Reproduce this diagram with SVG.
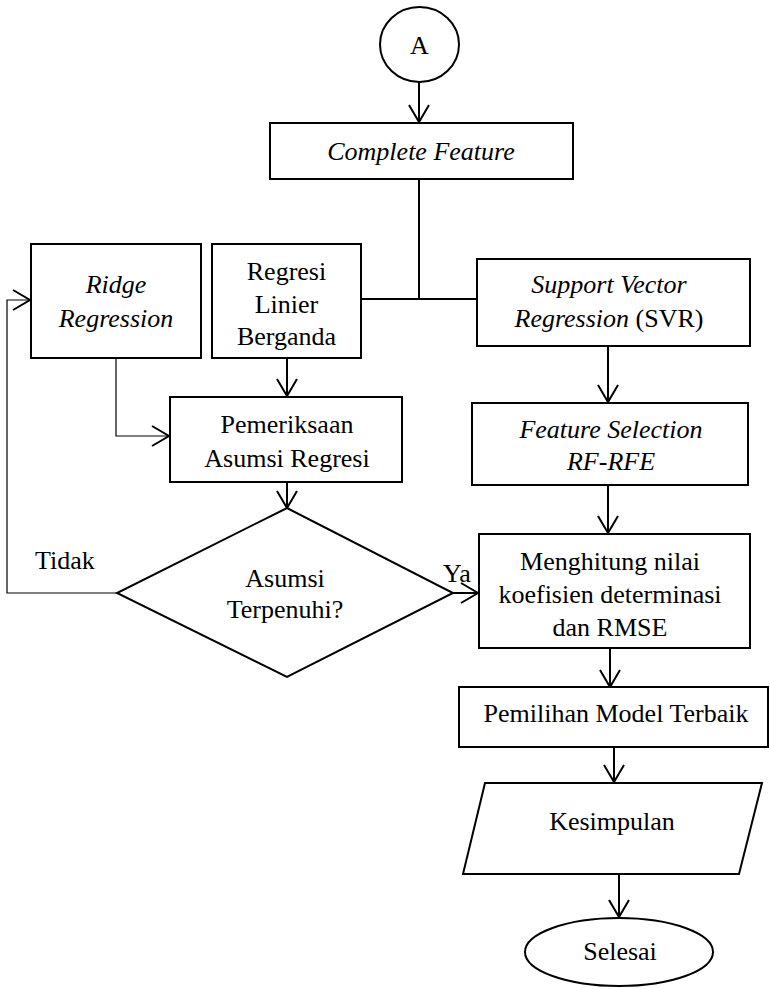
<svg xmlns="http://www.w3.org/2000/svg" width="770" height="989" viewBox="0 0 770 989">
<style>
.box{fill:#fff;stroke:#000;stroke-width:2}
.t{font-family:"Liberation Serif","Times New Roman",serif;font-size:26px;fill:#000;text-anchor:middle}
.i{font-style:italic}
.c{fill:none;stroke:#000;stroke-width:2}
.thin{fill:none;stroke:#000;stroke-width:1.2}
</style>
<defs>
<marker id="ar" viewBox="0 0 20 22" refX="18" refY="11" markerWidth="20" markerHeight="22" markerUnits="userSpaceOnUse" orient="auto">
<path d="M1,1 L18,11 L1,21" fill="none" stroke="#000" stroke-width="2"/>
</marker>
</defs>
<rect width="770" height="989" fill="#fff"/>
<g id="connectors">
<line class="c" x1="419" y1="82" x2="419" y2="122" marker-end="url(#ar)"/>
<line class="c" x1="419" y1="179" x2="419" y2="299"/>
<line class="c" x1="361" y1="299" x2="477" y2="299"/>
<polyline class="thin" points="116,358 116,436 169,436" marker-end="url(#ar)"/>
<line class="c" x1="287" y1="358" x2="287" y2="396" marker-end="url(#ar)"/>
<line class="c" x1="287" y1="482" x2="287" y2="508" marker-end="url(#ar)"/>
<polyline class="thin" points="117,593 7,593 7,300 30,300" marker-end="url(#ar)"/>
<line class="c" x1="453" y1="593" x2="478" y2="593" marker-end="url(#ar)"/>
<line class="c" x1="608" y1="346" x2="608" y2="402" marker-end="url(#ar)"/>
<line class="c" x1="608" y1="485" x2="608" y2="533" marker-end="url(#ar)"/>
<line class="c" x1="610" y1="648" x2="610" y2="687" marker-end="url(#ar)"/>
<line class="c" x1="614" y1="747" x2="614" y2="782" marker-end="url(#ar)"/>
<line class="c" x1="619" y1="874" x2="619" y2="917" marker-end="url(#ar)"/>
<text class="t" x="35" y="569" style="text-anchor:start">Tidak</text>
<text class="t" x="443" y="582" style="text-anchor:start">Ya</text>
</g>
<g id="node-a">
<ellipse class="box" cx="419.5" cy="44.5" rx="39.5" ry="37.5"/>
<text class="t" x="419.5" y="54">A</text>
</g>
<g id="node-complete">
<rect class="box" x="270" y="123" width="303" height="56"/>
<text class="t i" x="421" y="160">Complete Feature</text>
</g>
<g id="node-ridge">
<rect class="box" x="31" y="244" width="170" height="114"/>
<text class="t i" x="116" y="293">Ridge</text>
<text class="t i" x="116" y="327">Regression</text>
</g>
<g id="node-regresi">
<rect class="box" x="212" y="244" width="149" height="114"/>
<text class="t" x="286.5" y="280">Regresi</text>
<text class="t" x="286.5" y="313">Linier</text>
<text class="t" x="286.5" y="345">Berganda</text>
</g>
<g id="node-svr">
<rect class="box" x="477" y="259" width="273" height="87"/>
<text class="t i" x="609" y="293">Support Vector</text>
<text class="t" x="609" y="327"><tspan font-style="italic">Regression</tspan> (SVR)</text>
</g>
<g id="node-pemeriksaan">
<rect class="box" x="170" y="397" width="232" height="85"/>
<text class="t" x="287" y="433">Pemeriksaan</text>
<text class="t" x="287" y="467">Asumsi Regresi</text>
</g>
<g id="node-fs">
<rect class="box" x="472" y="403" width="276" height="82"/>
<text class="t i" x="611" y="438">Feature Selection</text>
<text class="t i" x="611" y="470">RF-RFE</text>
</g>
<g id="node-asumsi">
<polygon class="box" points="287,508 453,593 287,677 117,593"/>
<text class="t" x="285" y="587">Asumsi</text>
<text class="t" x="285" y="618">Terpenuhi?</text>
</g>
<g id="node-menghitung">
<rect class="box" x="479" y="534" width="271" height="114"/>
<text class="t" x="610" y="570">Menghitung nilai</text>
<text class="t" x="610" y="603">koefisien determinasi</text>
<text class="t" x="610" y="636">dan RMSE</text>
</g>
<g id="node-pemilihan">
<rect class="box" x="459" y="687" width="309" height="60"/>
<text class="t" x="616" y="722">Pemilihan Model Terbaik</text>
</g>
<g id="node-kesimpulan">
<polygon class="box" points="485,783 762,783 739,874 463,874"/>
<text class="t" x="612" y="830">Kesimpulan</text>
</g>
<g id="node-selesai">
<ellipse class="box" cx="619" cy="952" rx="94" ry="34"/>
<text class="t" x="620" y="960">Selesai</text>
</g>
</svg>
